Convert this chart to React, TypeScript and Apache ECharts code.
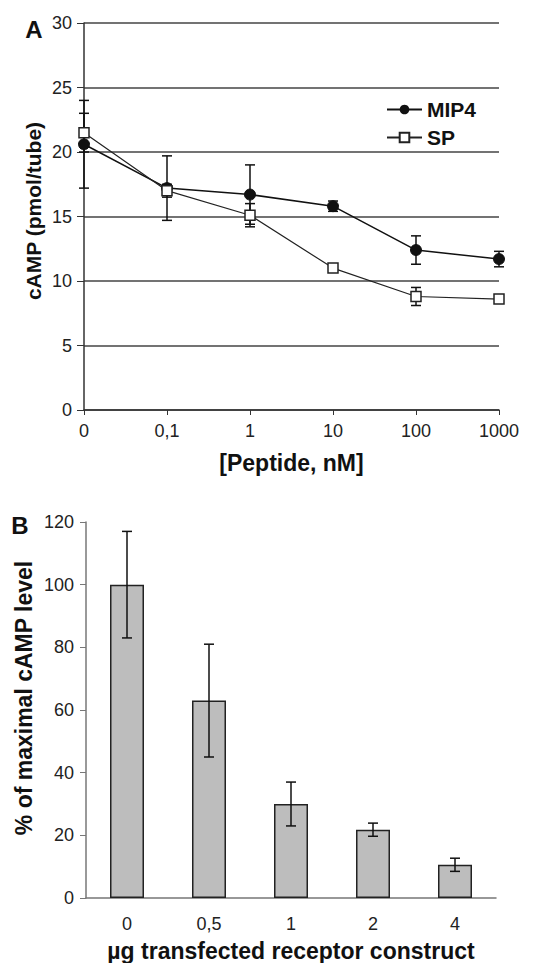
import React, { useEffect, useRef } from "react";
import * as echarts from "echarts";

const peptideCategories = ["0", "0,1", "1", "10", "100", "1000"];
const mip4Values = [20.6, 17.2, 16.7, 15.8, 12.4, 11.7];
const mip4Errors = [3.4, 2.5, 2.3, 0.4, 1.1, 0.6];
const spValues = [21.5, 17.0, 15.1, 11.0, 8.8, 8.6];
const spErrors = [1.5, 0.5, 0.9, 0.2, 0.7, 0.1];
const yTicksA = { min: 0, max: 30, interval: 5 };

const constructCategories = ["0", "0,5", "1", "2", "4"];
const barValues = [100, 63, 30, 21.8, 10.6];
const barErrors = [17, 18, 7, 2.1, 2.1];
const yTicksB = { min: 0, max: 120, interval: 20 };

const FONT = "Liberation Sans, Arial, sans-serif";

function errorRender(params: any, api: any) {
  const x = api.value(0);
  const lo = api.coord([x, api.value(1)]);
  const hi = api.coord([x, api.value(2)]);
  const cap = 5;
  const style = { stroke: "#111", lineWidth: 1.5 };
  return {
    type: "group",
    children: [
      { type: "line", shape: { x1: lo[0], y1: lo[1], x2: hi[0], y2: hi[1] }, style },
      { type: "line", shape: { x1: lo[0] - cap, y1: lo[1], x2: lo[0] + cap, y2: lo[1] }, style },
      { type: "line", shape: { x1: hi[0] - cap, y1: hi[1], x2: hi[0] + cap, y2: hi[1] }, style },
    ],
  };
}

export default function App() {
  const ref = useRef<HTMLDivElement>(null);
  useEffect(() => {
    if (!ref.current) return;
    const chart = echarts.init(ref.current, null, { renderer: "svg" });
    const errA = (vals: number[], errs: number[]) =>
      vals.map((v, i) => [i, v - errs[i], v + errs[i]]);
    const option: any = {
      animation: false,
      backgroundColor: "#fff",
      textStyle: { fontFamily: FONT },
      legend: {
        data: ["MIP4", "SP"],
        orient: "vertical",
        left: 381,
        top: 94,
        itemWidth: 35,
        itemHeight: 12,
        itemGap: 7,
        textStyle: { fontFamily: FONT, fontSize: 21, fontWeight: "bold", color: "#111" },
      },
      grid: [
        { left: 84, top: 23, width: 415, height: 387 },
        { left: 86, top: 522, width: 410, height: 378 },
      ],
      xAxis: [
        {
          gridIndex: 0,
          type: "category",
          data: peptideCategories,
          boundaryGap: false,
          axisLine: { lineStyle: { color: "#333", width: 1.5 } },
          axisTick: { length: 5, lineStyle: { color: "#333" } },
          axisLabel: { fontFamily: FONT, fontSize: 18, color: "#222", margin: 12 },
          splitLine: { show: false },
          name: "[Peptide, nM]",
          nameLocation: "middle",
          nameGap: 41,
          nameTextStyle: { fontFamily: FONT, fontSize: 23, fontWeight: "bold", color: "#111" },
        },
        {
          gridIndex: 1,
          type: "category",
          data: constructCategories,
          boundaryGap: true,
          axisLine: { lineStyle: { color: "#777", width: 1.5 } },
          axisTick: { length: 4, lineStyle: { color: "#777" } },
          axisLabel: { fontFamily: FONT, fontSize: 18, color: "#222", margin: 17 },
          name: "µg transfected receptor construct",
          nameLocation: "middle",
          nameGap: 41,
          nameTextStyle: { fontFamily: FONT, fontSize: 23, fontWeight: "bold", color: "#111" },
        },
      ],
      yAxis: [
        {
          gridIndex: 0,
          type: "value",
          min: yTicksA.min,
          max: yTicksA.max,
          interval: yTicksA.interval,
          axisLine: { show: true, lineStyle: { color: "#333", width: 1.5 } },
          axisTick: { show: true, length: 7, lineStyle: { color: "#333" } },
          axisLabel: { fontFamily: FONT, fontSize: 18, color: "#222", margin: 12 },
          splitLine: { show: true, lineStyle: { color: "#444", width: 1.5 } },
        },
        {
          gridIndex: 1,
          type: "value",
          min: yTicksB.min,
          max: yTicksB.max,
          interval: yTicksB.interval,
          axisLine: { show: true, lineStyle: { color: "#777", width: 1.5 } },
          axisTick: { show: true, length: 6, lineStyle: { color: "#777" } },
          axisLabel: { fontFamily: FONT, fontSize: 18, color: "#222", margin: 12 },
          splitLine: { show: false },
        },
      ],
      graphic: [
        {
          type: "text",
          x: 34,
          y: 29,
          style: { text: "A", font: `bold 24px ${FONT}`, fill: "#111", textAlign: "center", textVerticalAlign: "middle" },
        },
        {
          type: "text",
          x: 20,
          y: 525,
          style: { text: "B", font: `bold 24px ${FONT}`, fill: "#111", textAlign: "center", textVerticalAlign: "middle" },
        },
        {
          type: "text",
          x: 33,
          y: 211,
          rotation: Math.PI / 2,
          style: { text: "cAMP (pmol/tube)", font: `bold 21px ${FONT}`, fill: "#111", textAlign: "center", textVerticalAlign: "middle" },
        },
        {
          type: "text",
          x: 24,
          y: 698,
          rotation: Math.PI / 2,
          style: { text: "% of maximal cAMP level", font: `bold 23px ${FONT}`, fill: "#111", textAlign: "center", textVerticalAlign: "middle" },
        },
      ],
      series: [
        {
          type: "custom",
          name: "MIP4 err",
          xAxisIndex: 0,
          yAxisIndex: 0,
          renderItem: errorRender,
          data: errA(mip4Values, mip4Errors),
          z: 1,
        },
        {
          type: "custom",
          name: "SP err",
          xAxisIndex: 0,
          yAxisIndex: 0,
          renderItem: errorRender,
          data: errA(spValues, spErrors),
          z: 1,
        },
        {
          type: "line",
          name: "MIP4",
          xAxisIndex: 0,
          yAxisIndex: 0,
          data: mip4Values,
          symbol: "circle",
          symbolSize: 11,
          lineStyle: { color: "#111", width: 1.5 },
          itemStyle: { color: "#111", borderColor: "#111" },
          z: 3,
        },
        {
          type: "line",
          name: "SP",
          xAxisIndex: 0,
          yAxisIndex: 0,
          data: spValues,
          symbol: "rect",
          symbolSize: 10,
          lineStyle: { color: "#222", width: 1.2 },
          itemStyle: { color: "#fff", borderColor: "#222", borderWidth: 1.5 },
          z: 4,
        },
        {
          type: "bar",
          xAxisIndex: 1,
          yAxisIndex: 1,
          data: barValues,
          barWidth: 34,
          itemStyle: { color: "#bdbdbd", borderColor: "#222", borderWidth: 1.5 },
          z: 2,
        },
        {
          type: "custom",
          xAxisIndex: 1,
          yAxisIndex: 1,
          renderItem: errorRender,
          data: barValues.map((v, i) => [i, v - barErrors[i], v + barErrors[i]]),
          z: 5,
        },
      ],
    };
    chart.setOption(option);
    return () => chart.dispose();
  }, []);
  return (
    <div
      ref={ref}
      style={{ position: "fixed", left: 0, top: 0, width: 538, height: 963, background: "#fff" }}
    />
  );
}
